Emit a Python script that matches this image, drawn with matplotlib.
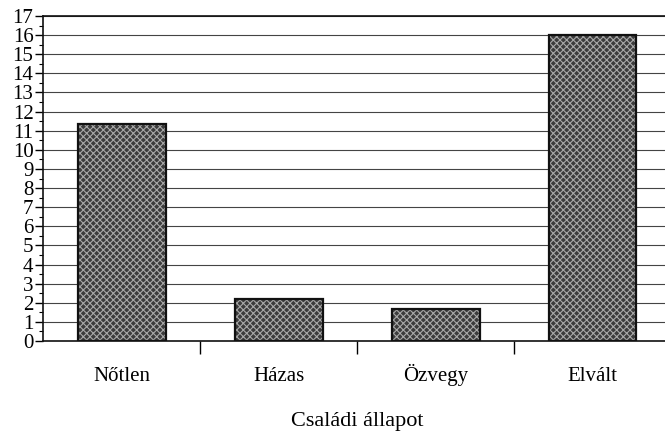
import numpy as np
import matplotlib
matplotlib.use("Agg")
import matplotlib.pyplot as plt
import matplotlib.transforms as mtransforms

# adatok
kategoriak = ["Nőtlen", "Házas", "Özvegy", "Elvált"]
ertekek = [11.35, 2.2, 1.65, 16.0]

plt.rcParams["font.family"] = ["Liberation Serif", "DejaVu Serif"]
plt.rcParams["hatch.linewidth"] = 0.8

fig = plt.figure(figsize=(6.65, 4.33), dpi=100)
ax = fig.add_axes([0.065, 0.2125, 0.944, 0.7505])

x = np.arange(len(kategoriak))
# kitoltes mintaval
ax.bar(x, ertekek, width=0.56, color="#3c3c3c", edgecolor="#a8a8a8",
       hatch="xxxxx", linewidth=0, zorder=3)
# korvonal
ax.bar(x, ertekek, width=0.56, fill=False, edgecolor="#111111",
       linewidth=1.6, zorder=4)

ax.set_xlim(-0.5, len(kategoriak) - 0.5)
ax.set_ylim(0, 17)
ax.set_yticks(range(0, 18))
ax.set_yticks(np.arange(0.5, 17, 1), minor=True)
ax.set_xticks([])
ax.set_xticks(np.arange(0.5, len(kategoriak) - 0.5, 1), minor=True)

ax.tick_params(axis="y", which="major", labelsize=15, length=6, width=1,
               direction="out", pad=1)
ax.tick_params(axis="y", which="minor", length=3, width=0.8, direction="out")
ax.tick_params(axis="x", which="minor", length=9, width=1, direction="out")

# kategoria feliratok, alapvonalra igazitva
trans = mtransforms.blended_transform_factory(ax.transData, fig.transFigure)
for xi, k in zip(x, kategoriak):
    ax.text(xi, 0.12, k, transform=trans, ha="center", va="baseline",
            fontsize=15)

ax.grid(axis="y", which="major", color="#444444", linewidth=0.8, zorder=0)
ax.set_axisbelow(True)

ax.spines["right"].set_visible(False)
for s in ["left", "bottom", "top"]:
    ax.spines[s].set_linewidth(1.2)
    ax.spines[s].set_color("#111111")

fig.text(0.537, 0.016, "Családi állapot", ha="center", va="baseline",
         fontsize=16)

fig.savefig("out.png", dpi=100)
